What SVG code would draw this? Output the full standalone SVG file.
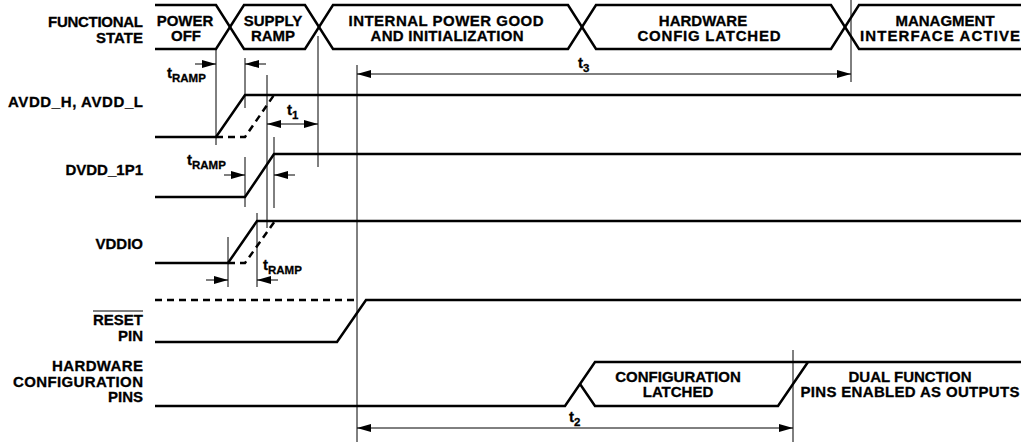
<svg xmlns="http://www.w3.org/2000/svg" width="1021" height="442" viewBox="0 0 1021 442">
<style>
text{font-family:"Liberation Sans",Arial,sans-serif;font-weight:bold;font-size:15px;fill:#000;stroke:#000;stroke-width:0.3}
.l{text-anchor:end}
.m{text-anchor:middle}
.sub{font-size:11.5px}
.sig{fill:none;stroke:#000;stroke-width:2.5;stroke-linejoin:miter}
.dash{fill:none;stroke:#000;stroke-width:2.5;stroke-dasharray:7,5}
.thin{fill:none;stroke:#000;stroke-width:1}
.dim{fill:none;stroke:#000;stroke-width:1;marker-end:url(#ah)}
.dim2{fill:none;stroke:#000;stroke-width:1;marker-end:url(#ah);marker-start:url(#ah)}
</style>
<defs>
<marker id="ah" viewBox="0 0 14 8" refX="14" refY="4" markerWidth="14" markerHeight="8" markerUnits="userSpaceOnUse" orient="auto-start-reverse">
<path d="M0,0 L14,4 L0,8 Z" fill="#000"/>
</marker>
</defs>
<rect width="1021" height="442" fill="#fff"/>

<g id="labels">
<text class="l" x="143" y="26.5" textLength="95">FUNCTIONAL</text>
<text class="l" x="143" y="42.5">STATE</text>
<text class="l" x="143" y="107" textLength="135">AVDD_H, AVDD_L</text>
<text class="l" x="143" y="175">DVDD_1P1</text>
<text class="l" x="143" y="249">VDDIO</text>
<text class="l" x="143" y="325">RESET</text>
<line class="thin" x1="93" y1="311" x2="143" y2="311" stroke-width="1.3"/>
<text class="l" x="143" y="341">PIN</text>
<text class="l" x="143" y="371" textLength="91">HARDWARE</text>
<text class="l" x="143" y="386.5" textLength="130">CONFIGURATION</text>
<text class="l" x="143" y="402">PINS</text>
</g>

<g id="functional-state">
<polyline class="sig" points="155,5 216,5 244,49 305,49 333,5 568,5 596,49 831,49 859,5 1021,5"/>
<polyline class="sig" points="155,49 216,49 244,5 305,5 333,49 568,49 596,5 831,5 859,49 1021,49"/>
<text class="m" x="185" y="25.5">POWER</text>
<text class="m" x="186" y="41">OFF</text>
<text class="m" x="273" y="25.5">SUPPLY</text>
<text class="m" x="273" y="41">RAMP</text>
<text class="m" x="446" y="26" textLength="195">INTERNAL POWER GOOD</text>
<text class="m" x="447" y="41" textLength="153">AND INITIALIZATION</text>
<text class="m" x="703" y="26">HARDWARE</text>
<text class="m" x="709" y="41" textLength="143">CONFIG LATCHED</text>
<text class="m" x="945" y="26">MANAGMENT</text>
<text class="m" x="940" y="41" textLength="160">INTERFACE ACTIVE</text>
</g>

<g id="avdd">
<polyline class="sig" points="155,137 216,137 245,95 1021,95"/>
<polyline class="dash" points="216,137 245,137 274,95"/>
</g>
<g id="dvdd">
<polyline class="sig" points="155,197 245,197 274,154 1021,154"/>
</g>
<g id="vddio">
<polyline class="sig" points="155,263 228,263 257,221 1021,221"/>
<polyline class="dash" points="228,263 245,263 275,221"/>
</g>
<g id="reset">
<line class="dash" x1="155" y1="300" x2="358" y2="300"/>
<polyline class="sig" points="155,342 337,342 366,300 1021,300"/>
</g>
<g id="hwconfig">
<polyline class="sig" points="155,406 565,406 595,362 1021,362"/>
<polyline class="sig" points="580,384 595,406 778,406 808,362"/>
<text class="m" x="678" y="382">CONFIGURATION</text>
<text class="m" x="678" y="397">LATCHED</text>
<text class="m" x="910" y="382">DUAL FUNCTION</text>
<text class="m" x="910" y="397" textLength="219">PINS ENABLED AS OUTPUTS</text>
</g>

<g id="connectors">
<line class="thin" x1="216" y1="49" x2="216" y2="145"/>
<line class="thin" x1="245" y1="58" x2="245" y2="108"/>
<line class="thin" x1="267" y1="75" x2="267" y2="228"/>
<line class="thin" x1="318" y1="36" x2="318" y2="167"/>
<line class="thin" x1="274" y1="137" x2="274" y2="208"/>
<line class="thin" x1="245" y1="157" x2="245" y2="207"/>
<line class="thin" x1="228" y1="237" x2="228" y2="287"/>
<line class="thin" x1="257" y1="213" x2="257" y2="287"/>
<line class="thin" x1="357" y1="65" x2="357" y2="442"/>
<line class="thin" x1="851" y1="0" x2="851" y2="82"/>
<line class="thin" x1="793" y1="350" x2="793" y2="442"/>

<line class="dim" x1="195" y1="64" x2="216" y2="64"/>
<line class="dim" x1="266" y1="64" x2="245" y2="64"/>
<line class="dim2" x1="267" y1="124" x2="318" y2="124"/>
<line class="dim" x1="224" y1="175" x2="245" y2="175"/>
<line class="dim" x1="295" y1="175" x2="274" y2="175"/>
<line class="dim" x1="206" y1="280" x2="228" y2="280"/>
<line class="dim" x1="278" y1="280" x2="257" y2="280"/>
<line class="dim2" x1="357" y1="74" x2="851" y2="74"/>
<line class="dim2" x1="357" y1="428" x2="793" y2="428"/>

<text x="167" y="78">t<tspan class="sub" dy="4">RAMP</tspan></text>
<text x="187" y="165">t<tspan class="sub" dy="4">RAMP</tspan></text>
<text x="263" y="270">t<tspan class="sub" dy="4">RAMP</tspan></text>
<text x="287" y="115">t<tspan class="sub" dy="4">1</tspan></text>
<text x="578" y="68">t<tspan class="sub" dy="4">3</tspan></text>
<text x="569" y="422">t<tspan class="sub" dy="4">2</tspan></text>
</g>
</svg>
